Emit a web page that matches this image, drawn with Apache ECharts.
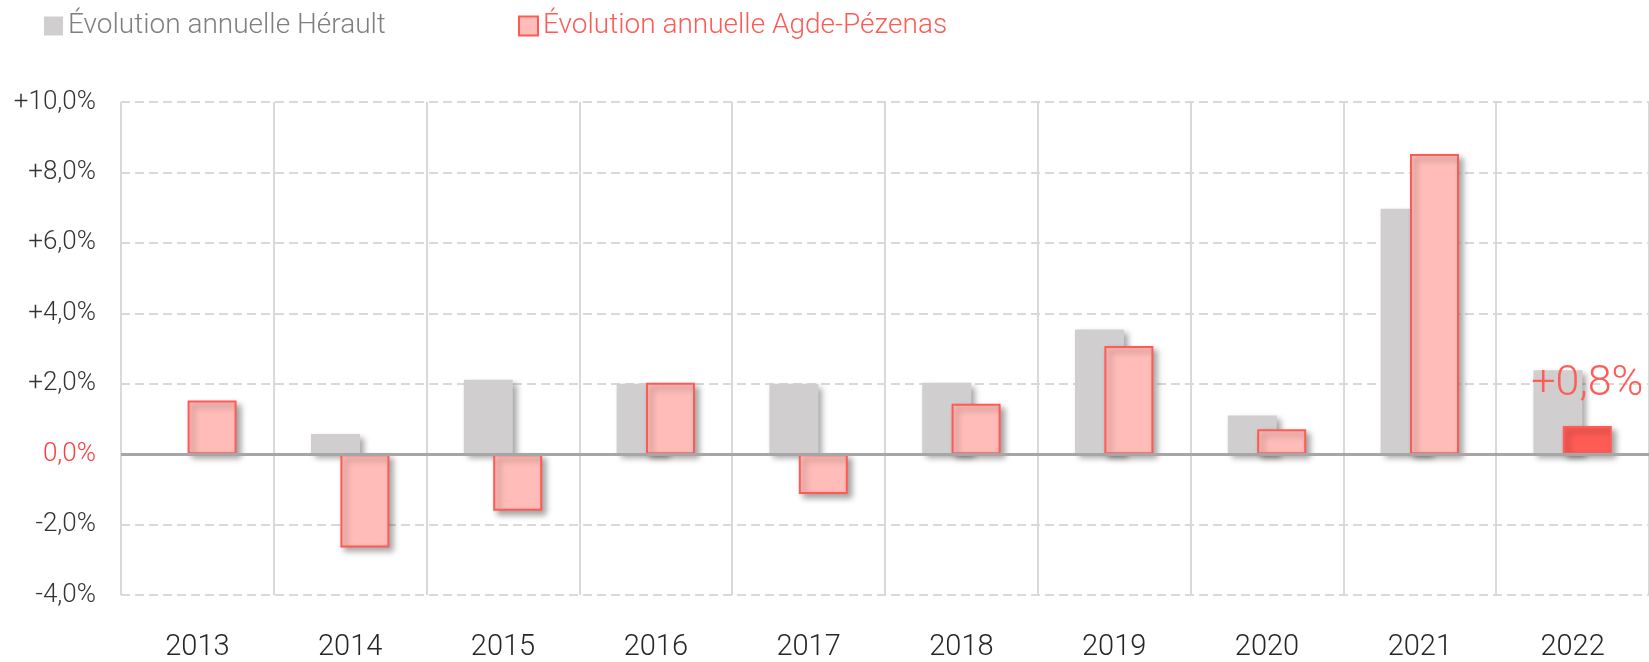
<!DOCTYPE html>
<html>
<head>
<meta charset="utf-8">
<script src="https://cdn.jsdelivr.net/npm/echarts@6/dist/echarts.min.js"></script>
<style>
html,body{margin:0;padding:0;background:#fff;}
#chart{width:1649px;height:662px;}
</style>
</head>
<body>
<div id="chart"></div>
<script>
const categories = ['2013','2014','2015','2016','2017','2018','2019','2020','2021','2022'];
const heraultName = 'Évolution annuelle Hérault';
const agdeName = 'Évolution annuelle Agde-Pézenas';
const heraultValues = [null, 0.57, 2.11, 2.0, 2.0, 2.03, 3.54, 1.10, 6.97, 2.38];
const agdeValues = [1.52, -2.65, -1.61, 2.03, -1.13, 1.43, 3.07, 0.71, 8.52, 0.8];
const yTicks = {min: -4, max: 10, interval: 2};

const FONT = 'Roboto, "Noto Sans", sans-serif';
const fmt = v => {
  const s = Math.abs(v).toFixed(1).replace('.', ',') + '%';
  if (v > 0) return '+' + s;
  if (v < 0) return '-' + s;
  return s;
};

const shadow = {shadowColor: 'rgba(0,0,0,0.35)', shadowBlur: 6, shadowOffsetX: 4, shadowOffsetY: 4};

const agdeData = agdeValues.map((v, i) => {
  if (i === agdeValues.length - 1) {
    return {
      value: v,
      itemStyle: {color: '#FF5C55', borderColor: '#FF5C55'},
      label: {
        show: true, position: 'top', distance: 20,
        formatter: p => fmt(p.value),
        color: '#FF5C55', fontSize: 43, fontWeight: 300, fontFamily: FONT
      }
    };
  }
  return v;
});

const chart = echarts.init(document.getElementById('chart'), null, {renderer: 'canvas'});
chart.setOption({
  animation: false,
  backgroundColor: '#ffffff',
  textStyle: {fontFamily: FONT},
  legend: [
    {
      data: [heraultName], left: 44, top: 12, padding: 0, icon: 'rect',
      itemWidth: 19, itemHeight: 19,
      itemStyle: {shadowBlur: 0, shadowOffsetX: 0, shadowOffsetY: 0},
      textStyle: {color: '#7F7F7F', fontSize: 28, fontWeight: 300, fontFamily: FONT}
    },
    {
      data: [agdeName], left: 518, top: 12, padding: 0, icon: 'rect',
      itemWidth: 19, itemHeight: 19,
      itemStyle: {shadowBlur: 0, shadowOffsetX: 0, shadowOffsetY: 0},
      textStyle: {color: '#FF5B55', fontSize: 28, fontWeight: 300, fontFamily: FONT}
    }
  ],
  grid: {left: 121, right: -6, top: 102, bottom: 65, containLabel: false},
  xAxis: {
    type: 'category',
    data: categories,
    boundaryGap: true,
    axisLine: {show: false, onZero: false},
    axisTick: {show: false},
    axisLabel: {color: '#262626', fontSize: 29, fontWeight: 300, margin: 38, fontFamily: FONT},
    splitLine: {show: true, interval: 0, lineStyle: {color: '#D9D9D9', width: 2}}
  },
  yAxis: {
    type: 'value',
    min: yTicks.min, max: yTicks.max, interval: yTicks.interval,
    axisLine: {show: false},
    axisTick: {show: false},
    axisLabel: {
      formatter: v => fmt(v),
      color: v => (Number(v) === 0 ? '#FF3B3B' : '#333333'),
      fontSize: 26, fontWeight: 300, margin: 25, fontFamily: FONT
    },
    splitLine: {show: true, lineStyle: {color: '#D9D9D9', width: 2, type: [9, 5]}}
  },
  series: [
    {
      name: heraultName,
      type: 'bar',
      data: heraultValues,
      barWidth: 49,
      barGap: '-40%',
      itemStyle: Object.assign({color: '#D0CECE'}, shadow),
      z: 2
    },
    {
      name: agdeName,
      type: 'bar',
      data: agdeData,
      barWidth: 49,
      barGap: '-40%',
      itemStyle: Object.assign({color: '#FFBCB8', borderColor: '#FF5B55', borderWidth: 2}, shadow),
      z: 3,
      markLine: {
        silent: true, symbol: 'none', label: {show: false},
        lineStyle: {color: '#A6A6A6', width: 3, type: 'solid'},
        data: [{yAxis: 0}],
        z: 5
      }
    }
  ]
});
</script>
</body>
</html>
